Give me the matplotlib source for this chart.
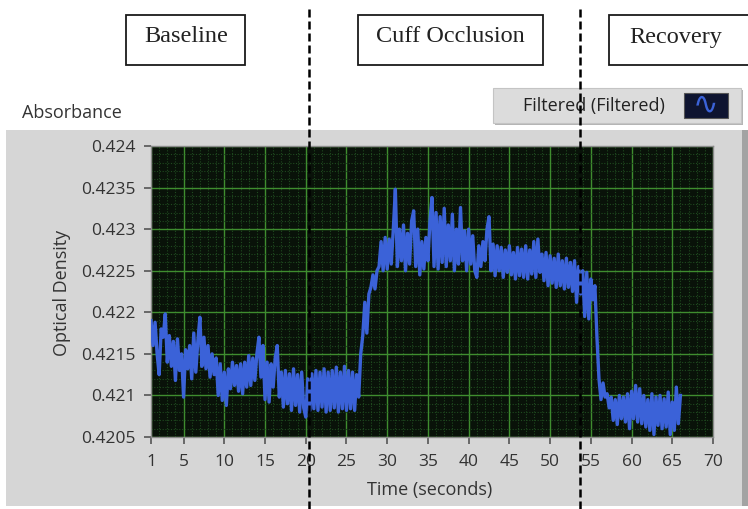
import numpy as np
import matplotlib
matplotlib.use("Agg")
import matplotlib.pyplot as plt
import matplotlib.transforms as mtransforms
from matplotlib.patches import Rectangle
from matplotlib.lines import Line2D
from matplotlib.ticker import MultipleLocator

W, H = 748, 509

# samples every 0.25 s, 1 s .. 66 s
time_s = np.arange(1, 66.01, 0.25)

optical_density = [
    0.42190, 0.42160, 0.42188, 0.42150,  # 1
    0.42125, 0.42180, 0.42170, 0.42198,  # 2
    0.42140, 0.42172, 0.42135, 0.42165,  # 3
    0.42118, 0.42168, 0.42130, 0.42150,  # 4
    0.42098, 0.42155, 0.42132, 0.42160,  # 5
    0.42120, 0.42175, 0.42128, 0.42165,  # 6
    0.42194, 0.42135, 0.42170, 0.42132,  # 7
    0.42160, 0.42122, 0.42150, 0.42125,  # 8
    0.42145, 0.42100, 0.42138, 0.42094,  # 9
    0.42128, 0.42088, 0.42132, 0.42108,  # 10
    0.42140, 0.42112, 0.42136, 0.42105,  # 11
    0.42138, 0.42102, 0.42140, 0.42110,  # 12
    0.42148, 0.42112, 0.42145, 0.42118,  # 13
    0.42150, 0.42170, 0.42122, 0.42160,  # 14
    0.42095, 0.42140, 0.42092, 0.42138,  # 15
    0.42110, 0.42145, 0.42160, 0.42098,  # 16
    0.42128, 0.42086, 0.42130, 0.42090,  # 17
    0.42126, 0.42082, 0.42132, 0.42088,  # 18
    0.42125, 0.42080, 0.42128, 0.42085,  # 19
    0.42074, 0.42120, 0.42082, 0.42126,  # 20
    0.42084, 0.42130, 0.42082, 0.42128,  # 21
    0.42086, 0.42132, 0.42080, 0.42128,  # 22
    0.42082, 0.42130, 0.42085, 0.42134,  # 23
    0.42080, 0.42128, 0.42084, 0.42135,  # 24
    0.42082, 0.42130, 0.42084, 0.42128,  # 25
    0.42082, 0.42125, 0.42098, 0.42150,  # 26
    0.42172, 0.42212, 0.42175, 0.42222,  # 27
    0.42230, 0.42245, 0.42228, 0.42250,  # 28
    0.42255, 0.42285, 0.42250, 0.42290,  # 29
    0.42252, 0.42288, 0.42258, 0.42300,  # 30
    0.42348, 0.42255, 0.42300, 0.42262,  # 31
    0.42305, 0.42250, 0.42295, 0.42258,  # 32
    0.42310, 0.42322, 0.42255, 0.42300,  # 33
    0.42245, 0.42285, 0.42252, 0.42290,  # 34
    0.42262, 0.42310, 0.42338, 0.42255,  # 35
    0.42320, 0.42252, 0.42315, 0.42260,  # 36
    0.42325, 0.42255, 0.42305, 0.42262,  # 37
    0.42318, 0.42250, 0.42300, 0.42258,  # 38
    0.42326, 0.42262, 0.42298, 0.42250,  # 39
    0.42300, 0.42258, 0.42292, 0.42250,  # 40
    0.42242, 0.42280, 0.42255, 0.42285,  # 41
    0.42262, 0.42300, 0.42315, 0.42250,  # 42
    0.42282, 0.42244, 0.42280, 0.42250,  # 43
    0.42278, 0.42242, 0.42275, 0.42248,  # 44
    0.42280, 0.42245, 0.42272, 0.42240,  # 45
    0.42278, 0.42244, 0.42276, 0.42242,  # 46
    0.42280, 0.42240, 0.42275, 0.42246,  # 47
    0.42285, 0.42242, 0.42288, 0.42248,  # 48
    0.42270, 0.42238, 0.42272, 0.42232,  # 49
    0.42268, 0.42235, 0.42265, 0.42230,  # 50
    0.42270, 0.42232, 0.42262, 0.42228,  # 51
    0.42265, 0.42230, 0.42260, 0.42225,  # 52
    0.42262, 0.42212, 0.42255, 0.42222,  # 53
    0.42250, 0.42195, 0.42248, 0.42192,  # 54
    0.42240, 0.42215, 0.42232, 0.42170,  # 55
    0.42120, 0.42095, 0.42115, 0.42098,  # 56
    0.42102, 0.42085, 0.42098, 0.42070,  # 57
    0.42095, 0.42065, 0.42100, 0.42072,  # 58
    0.42098, 0.42068, 0.42102, 0.42060,  # 59
    0.42105, 0.42072, 0.42112, 0.42068,  # 60
    0.42108, 0.42066, 0.42100, 0.42062,  # 61
    0.42095, 0.42058, 0.42102, 0.42053,  # 62
    0.42098, 0.42064, 0.42100, 0.42060,  # 63
    0.42096, 0.42062, 0.42104, 0.42053,  # 64
    0.42092, 0.42058, 0.42110, 0.42066,  # 65
    0.42100,
]

x_ticks = [1, 5, 10, 15, 20, 25, 30, 35, 40, 45, 50, 55, 60, 65, 70]
y_ticks = [0.4205, 0.421, 0.4215, 0.422, 0.4225, 0.423, 0.4235, 0.424]
y_tick_labels = ["0.4205", "0.421", "0.4215", "0.422", "0.4225", "0.423", "0.4235", "0.424"]

phase_names = ["Baseline", "Cuff Occlusion", "Recovery"]
phase_bounds = [20.4, 53.7]

LINE_BLUE = "#3b62d8"
TXT = "#333333"
UI_FONT = "Open Sans"


def fx(px):
    return px / W


def fy(py):
    return 1 - py / H


fig = plt.figure(figsize=(W / 100, H / 100), dpi=100)
fig.patch.set_facecolor("white")

# grey front panel
fig.patches.append(Rectangle((fx(6), fy(506)), (742 - 6) / W, (506 - 130) / H,
                             transform=fig.transFigure, fc="#d6d6d6", ec="none", zorder=0))
fig.patches.append(Rectangle((fx(742), fy(506)), 6 / W, (506 - 130) / H,
                             transform=fig.transFigure, fc="#a3a3a3", ec="none", zorder=0))

ax = fig.add_axes([fx(151), fy(437), (713 - 151) / W, (437 - 146) / H])
ax.set_zorder(5)
ax.set_facecolor("#091209")
ax.plot(time_s, optical_density, color=LINE_BLUE, lw=2.4, zorder=3)

ax.set_xlim(1, 70)
ax.set_ylim(0.4205, 0.424)
ax.set_xticks(x_ticks)
ax.set_xticklabels([str(t) for t in x_ticks])
ax.set_yticks(y_ticks)
ax.set_yticklabels(y_tick_labels)
ax.xaxis.set_minor_locator(MultipleLocator(1))
ax.yaxis.set_minor_locator(MultipleLocator(0.0001))
ax.grid(which="major", color="#3f8d2f", lw=1.0, zorder=1)
ax.grid(which="minor", color="#1f4a1f", lw=0.8, linestyle=(0, (1, 1.5)), zorder=1)
ax.set_axisbelow(True)
ax.tick_params(which="major", direction="out", length=5, width=1.2, color="#555555",
               labelsize=12.5, labelcolor=TXT)
ax.tick_params(axis="x", which="major", pad=7)
ax.tick_params(axis="y", which="major", pad=6)
ax.tick_params(which="minor", length=0)
for lab in ax.get_xticklabels() + ax.get_yticklabels():
    lab.set_fontfamily(UI_FONT)
for s in ax.spines.values():
    s.set_color("#8a8a8a")
    s.set_linewidth(1)

fig.text(fx(62), fy(293), "Optical Density", rotation=90, ha="center", va="center",
         fontsize=13, color=TXT, fontfamily=UI_FONT)
fig.text(fx(430), fy(490), "Time (seconds)", ha="center", va="center",
         fontsize=13, color=TXT, fontfamily=UI_FONT)
fig.text(fx(22), fy(113), "Absorbance", ha="left", va="center",
         fontsize=13, color=TXT, fontfamily=UI_FONT)

# legend plate
fig.patches.append(Rectangle((fx(495), fy(125)), 248 / W, 35 / H, transform=fig.transFigure,
                             fc="#b5b5b5", ec="none", zorder=1))
fig.patches.append(Rectangle((fx(493), fy(123)), 248 / W, 35 / H, transform=fig.transFigure,
                             fc="#dcdcdc", ec="#c4c4c4", lw=0.8, zorder=2))
fig.text(fx(665), fy(106), "Filtered (Filtered)", ha="right", va="center",
         fontsize=13, color="#222222", fontfamily=UI_FONT, zorder=3)
fig.patches.append(Rectangle((fx(684), fy(118)), 44 / W, 25 / H, transform=fig.transFigure,
                             fc="#0e1430", ec="#555555", lw=0.8, zorder=3))
fig.text(fx(706), fy(105), "\u223f", ha="center", va="center", fontsize=22,
         color=LINE_BLUE, fontfamily="DejaVu Sans", zorder=4)

# phase boxes
box_px = [(126, 245), (358, 543), (609, 760)]
text_cx = [186, 450, 676]
for name, (x0, x1), cx in zip(phase_names, box_px, text_cx):
    fig.patches.append(Rectangle((fx(x0), fy(65)), (x1 - x0) / W, 50 / H, transform=fig.transFigure,
                                 fc="white", ec="#1a1a1a", lw=1.3, zorder=2))
    fig.text(fx(cx), fy(37), name, ha="center", va="center", fontsize=17.5,
             color="#222222", fontfamily="Liberation Serif", zorder=3)

# phase boundary markers
trans = mtransforms.blended_transform_factory(ax.transData, fig.transFigure)
for b in phase_bounds:
    fig.lines.append(Line2D([b, b], [0, fy(5)], transform=trans, color="black", lw=1.8,
                            linestyle=(0, (3.2, 1.6)), zorder=10))

fig.savefig("out.png", dpi=100)
